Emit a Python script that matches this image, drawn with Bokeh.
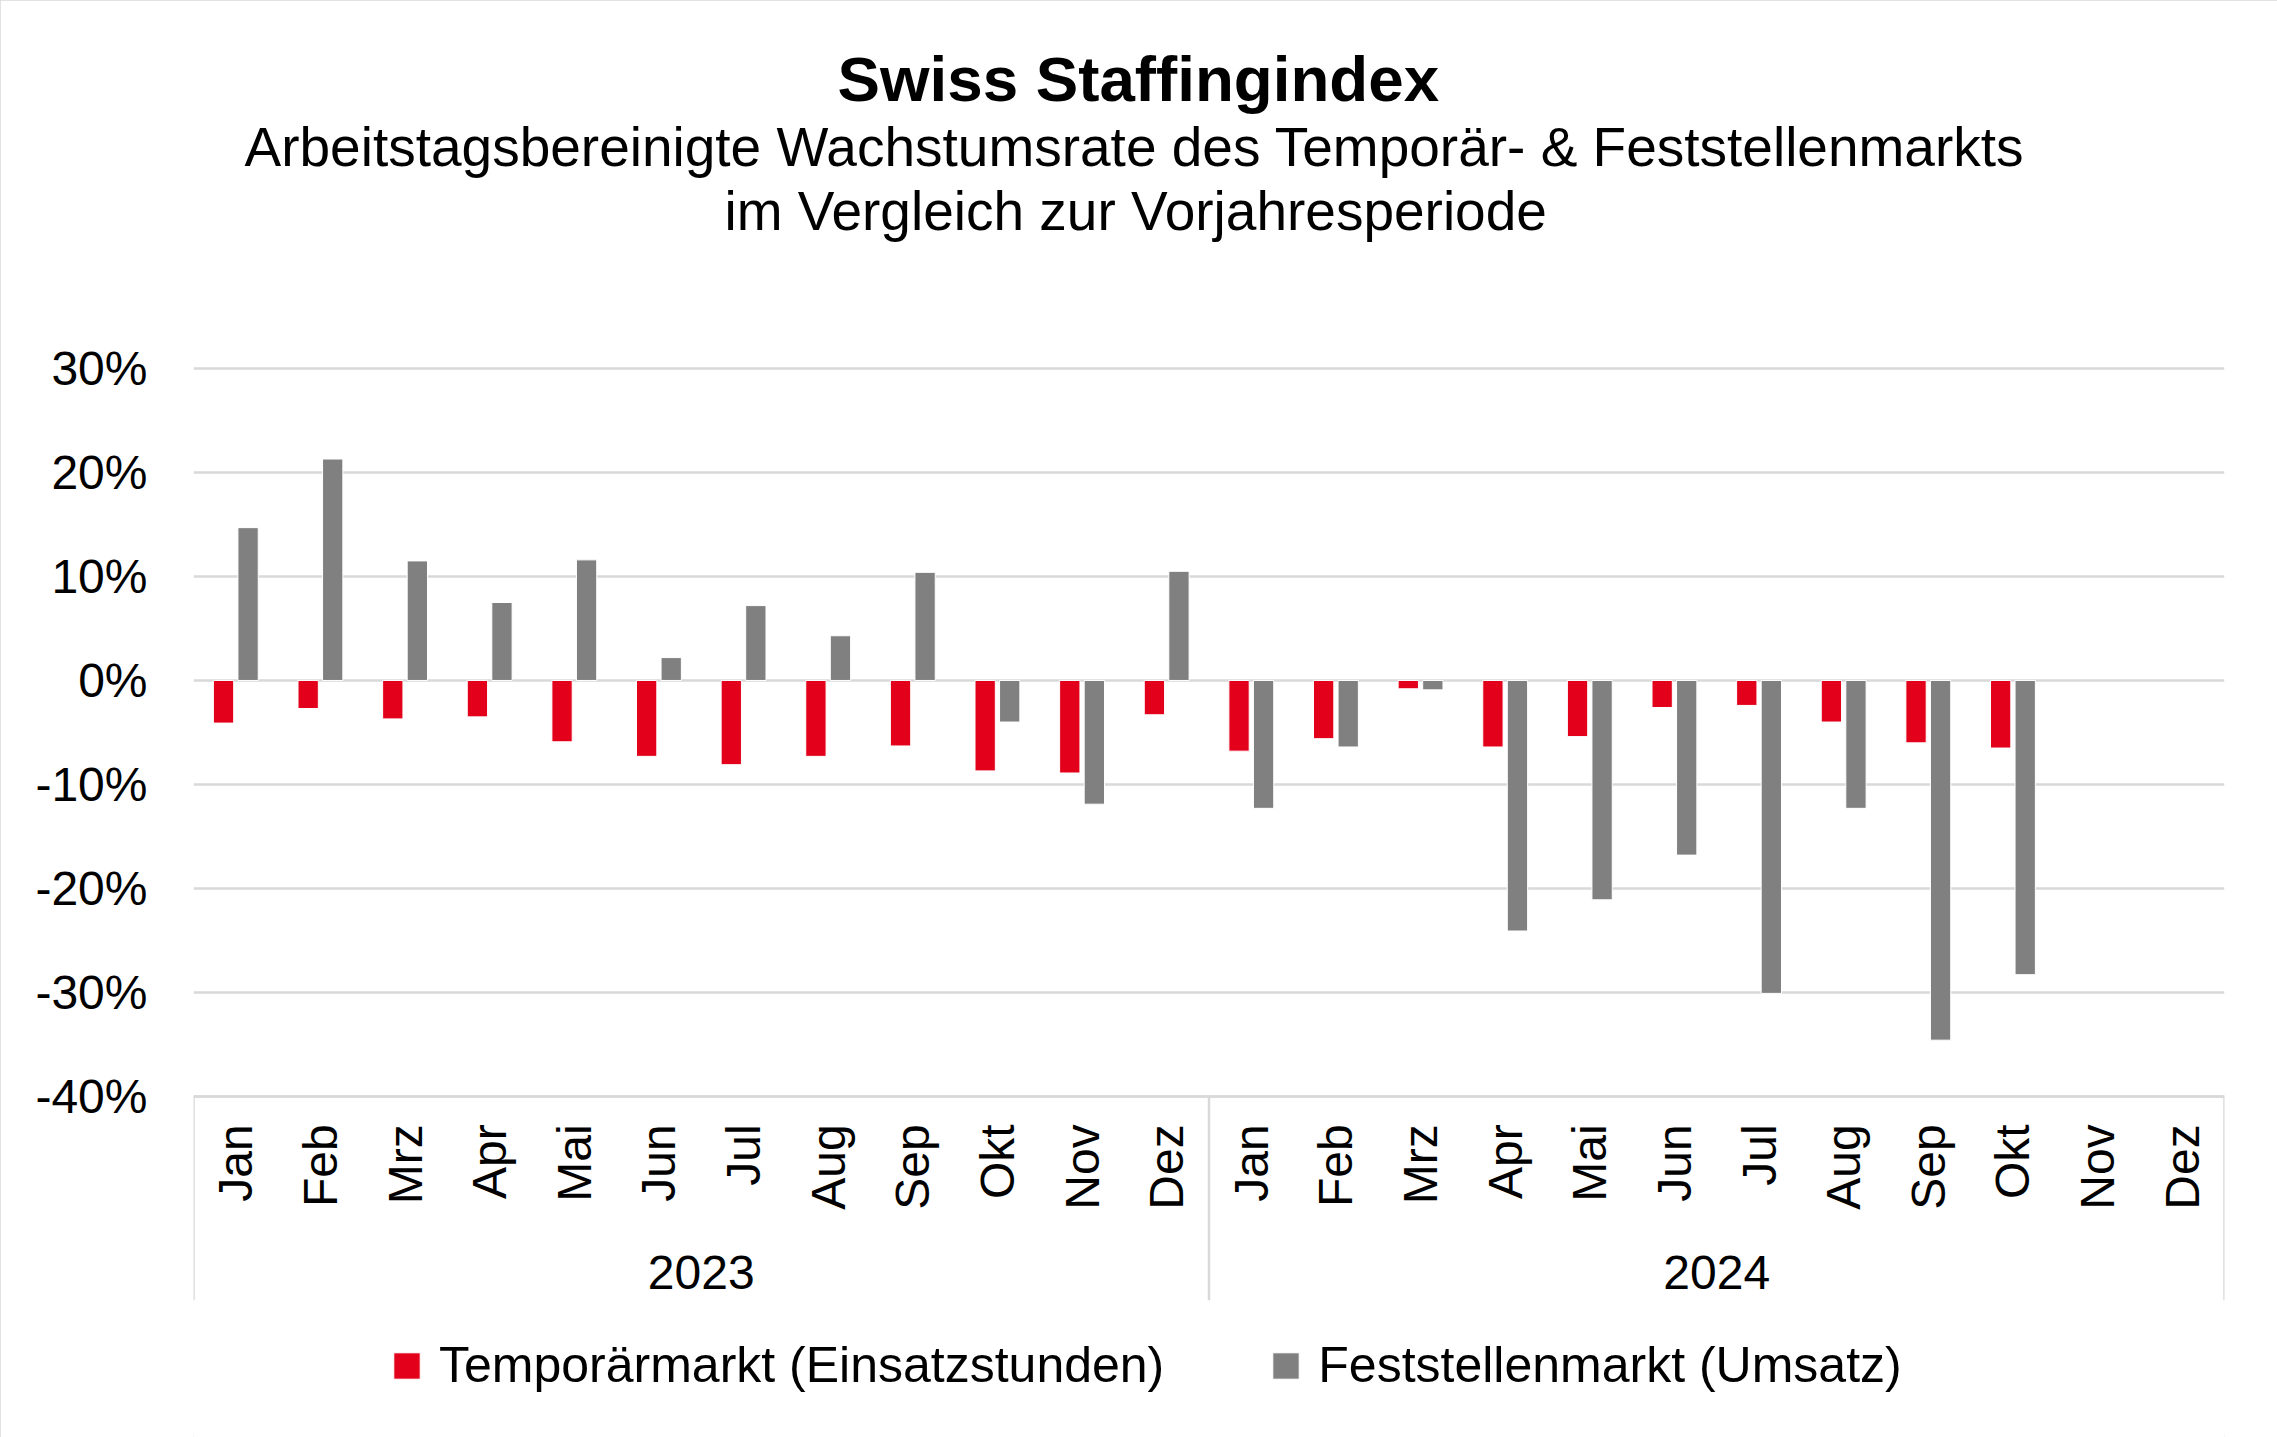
import math
import numpy as np
from bokeh.plotting import figure
from bokeh.models import (Range1d, FactorRange, FixedTicker, PrintfTickFormatter, Title,
                          Legend, LegendItem, ColumnDataSource)
from bokeh.transform import dodge
from bokeh.core.properties import value
from bokeh.embed import file_html
from bokeh.resources import INLINE

# ---------------- data ----------------
months = ["Jan", "Feb", "Mrz", "Apr", "Mai", "Jun", "Jul", "Aug", "Sep", "Okt", "Nov", "Dez"]
years = ["2023", "2024"]
temp_2023 = [-4.1, -2.7, -3.7, -3.5, -5.9, -7.3, -8.1, -7.3, -6.3, -8.7, -8.9, -3.3]
temp_2024 = [-6.8, -5.6, -0.8, -6.4, -5.4, -2.6, -2.4, -4.0, -6.0, -6.5, None, None]
fest_2023 = [14.7, 21.3, 11.5, 7.5, 11.6, 2.2, 7.2, 4.3, 10.4, -4.0, -11.9, 10.5]
fest_2024 = [-12.3, -6.4, -0.9, -24.1, -21.1, -16.8, -30.1, -12.3, -34.6, -28.3, None, None]
series_names = ["Temporärmarkt (Einsatzstunden)", "Feststellenmarkt (Umsatz)"]
y_ticks = [-40, -30, -20, -10, 0, 10, 20, 30]
title_text = "Swiss Staffingindex"
subtitle_1 = "Arbeitstagsbereinigte Wachstumsrate des Temporär- & Feststellenmarkts"
subtitle_2 = "im Vergleich zur Vorjahresperiode"

# ---------------- styling ----------------
FONT = "Liberation Sans"
RED = "#E2001A"
GREY = "#808080"
GRID = "#d9d9d9"

factors = [(y, m) for y in years for m in months]
to_arr = lambda v: np.array([np.nan if a is None else a for a in v], dtype=float)
src = ColumnDataSource(dict(x=factors, temp=to_arr(temp_2023 + temp_2024),
                            fest=to_arr(fest_2023 + fest_2024)))

y_hi = 30.2
y_lo = -72.82
y_sep_end = -59.62   # bottom of the category-axis area
y_year = -56.96      # level of the year labels

p = figure(width=2277, height=1437,
           x_range=FactorRange(factors=factors, range_padding=0, group_padding=0),
           y_range=Range1d(y_lo, y_hi),
           output_backend="svg", toolbar_location=None,
           min_border_left=193, min_border_right=53, min_border_top=366, min_border_bottom=0,
           background_fill_color="white", border_fill_color="white")
p.outline_line_color = None
p.styles = {"outline": "3px solid #d9d9d9", "outline-offset": "-3px"}

r1 = p.vbar(x=dodge("x", -0.145, range=p.x_range), top="temp", bottom=0, width=0.24,
            source=src, fill_color=RED, line_color="white", line_width=1)
r2 = p.vbar(x=dodge("x", 0.145, range=p.x_range), top="fest", bottom=0, width=0.24,
            source=src, fill_color=GREY, line_color="white", line_width=1)

# group separators and year labels below the category axis
n = len(months)
sep_x = [n * i for i in range(len(years) + 1)]
p.segment(x0=sep_x, y0=y_ticks[0], x1=sep_x, y1=y_sep_end, line_color=GRID, line_width=2.5)
p.text(x=years, y=[y_year] * len(years), text=years,
       text_font=value(FONT), text_font_size="48px", text_align="center",
       text_baseline="middle", text_color="black")

# y axis / grid
ticker = FixedTicker(ticks=y_ticks)
p.yaxis.ticker = ticker
p.ygrid.ticker = ticker
p.yaxis.formatter = PrintfTickFormatter(format="%d%%")
p.yaxis.axis_line_color = None
p.yaxis.major_tick_line_color = None
p.yaxis.minor_tick_line_color = None
p.yaxis.major_tick_out = 0
p.yaxis.major_tick_in = 0
p.yaxis.major_label_standoff = 46
p.yaxis.major_label_text_font = FONT
p.yaxis.major_label_text_font_size = "48px"
p.yaxis.major_label_text_color = "black"
p.ygrid.grid_line_color = GRID
p.ygrid.grid_line_width = 2.5
p.xgrid.visible = False

# x axis (month labels), drawn at the -40% line
p.xaxis.fixed_location = y_ticks[0]
p.xaxis.major_label_orientation = math.pi / 2
p.xaxis.major_label_standoff = 28
p.xaxis.major_tick_line_color = None
p.xaxis.minor_tick_line_color = None
p.xaxis.major_tick_out = 0
p.xaxis.major_tick_in = 0
p.xaxis.axis_line_color = GRID
p.xaxis.axis_line_width = 2.5
p.xaxis.major_label_text_font = FONT
p.xaxis.major_label_text_font_size = "48px"
p.xaxis.major_label_text_color = "black"
p.xaxis.group_text_color = None
p.xaxis.separator_line_color = None

# titles (stacked upward from the plot area)
p.title.text = title_text
p.title.text_font = FONT
p.title.text_font_size = "63.7px"
p.title.text_font_style = "bold"
p.title.text_color = "black"
p.title.align = "left"
p.title.offset = 644
p.title.standoff = 0
p.add_layout(Title(text=" ", text_font=FONT, text_font_size="10px", standoff=112), "above")
p.add_layout(Title(text=subtitle_2, text_font=FONT, text_font_size="55px", standoff=0,
                   text_font_style="normal", text_color="black", align="left", offset=531), "above")
p.add_layout(Title(text=subtitle_1, text_font=FONT, text_font_size="55px", standoff=0,
                   text_font_style="normal", text_color="black", align="left", offset=51), "above")

# legend
legend = Legend(items=[LegendItem(label=series_names[0], renderers=[r1]),
                       LegendItem(label=series_names[1], renderers=[r2])],
                orientation="horizontal", location=(197, 43),
                glyph_width=33, glyph_height=33, label_standoff=16, spacing=105,
                padding=0, margin=0, border_line_color=None, background_fill_alpha=0,
                label_text_font=FONT, label_text_font_size="50px", label_text_color="black")
p.add_layout(legend)

open("out.html", "w").write(file_html(p, INLINE))
